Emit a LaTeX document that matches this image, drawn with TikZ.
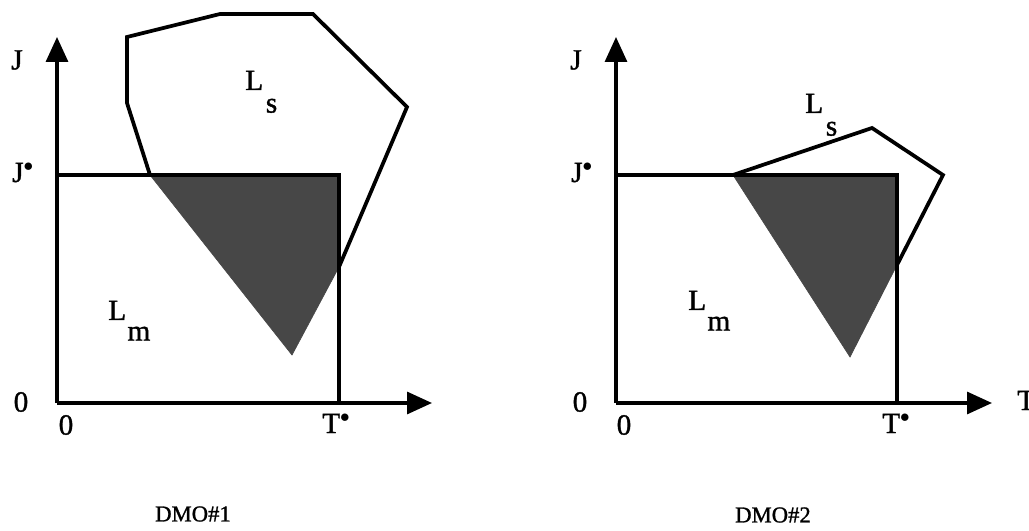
\documentclass[tikz,border=0pt]{standalone}
\usepackage{fontspec}
\setmainfont{Liberation Serif}
\newfontfamily\scanfont{Liberation Serif}[FakeBold=1.2]
\usetikzlibrary{arrows.meta}
\begin{document}
\begin{tikzpicture}[x=0.75pt,y=-0.75pt,
  axis/.style={line width=2.4pt,-{Triangle[length=18.75pt,width=16.5pt]}},
  guide/.style={line width=2.5pt},
  region/.style={line width=2.8pt,line join=miter},
  shade/.style={fill=black!72,draw=black!72,line width=0.5pt},
  lbl/.style={font=\scanfont\fontsize{22}{26}\selectfont,inner sep=0pt},
  captext/.style={font=\scanfont\fontsize{17}{20}\selectfont,inner sep=0pt}]
\useasboundingbox (0,0) rectangle (1029,531);

% ---------- left diagram ----------
\coordinate (O1) at (57,403);
\coordinate (Y1) at (57,37);
\coordinate (X1) at (432,403);
\coordinate (JA1) at (57,175);
\coordinate (P1) at (150,175);
\coordinate (C1) at (339,175);
\coordinate (K1) at (339,267);
\coordinate (B1) at (292,355);
\coordinate (TB1) at (339,403);

\fill[shade] (P1) -- (C1) -- (K1) -- (B1) -- cycle;
\draw[axis] (O1) -- (Y1);
\draw[axis] (O1) -- (X1);
\draw[guide] (JA1) -- (C1) -- (TB1);
\draw[region] (P1) -- (127,103) -- (127,37) -- (220,14) -- (313,14) -- (407,107) -- (K1);

\node[lbl] (j1) at (17,60) {J};
\node[lbl,anchor=base west] (js1) at (12,182) {J$^{\bullet}$};
\node[lbl] (z1) at (21,402) {0};
\node[lbl] (zb1) at (66,425) {0};
\node[lbl,anchor=base west] (ts1) at (322,433) {T$^{\bullet}$};
\node[lbl,anchor=base west] (ls1) at (245,90) {L\kern2pt\raisebox{-0.77em}{s}};
\node[lbl,anchor=base west] (lm1) at (108,320) {L\kern1pt\raisebox{-0.7em}{m}};
\node[captext] (d1) at (193,514) {DMO\#1};

% ---------- right diagram ----------
\coordinate (O2) at (616,403);
\coordinate (Y2) at (616,37);
\coordinate (X2) at (992,403);
\coordinate (JA2) at (616,175);
\coordinate (P2) at (733,175);
\coordinate (C2) at (897,175);
\coordinate (K2) at (897,265);
\coordinate (B2) at (850,357);
\coordinate (TB2) at (897,403);

\fill[shade] (P2) -- (C2) -- (K2) -- (B2) -- cycle;
\draw[axis] (O2) -- (Y2);
\draw[axis] (O2) -- (X2);
\draw[guide] (JA2) -- (C2) -- (TB2);
\draw[region] (P2) -- (872,128) -- (943,175) -- (K2);

\node[lbl] (j2) at (576,60) {J};
\node[lbl,anchor=base west] (js2) at (571,182) {J$^{\bullet}$};
\node[lbl] (z2) at (580,402) {0};
\node[lbl] (zb2) at (624,425) {0};
\node[lbl,anchor=base west] (ts2) at (882,433) {T$^{\bullet}$};
\node[lbl,anchor=base west] (t2) at (1017,410) {T};
\node[lbl,anchor=base west] (ls2) at (805,113) {L\kern2pt\raisebox{-0.77em}{s}};
\node[lbl,anchor=base west] (lm2) at (688,310) {L\kern1pt\raisebox{-0.7em}{m}};
\node[captext] (d2) at (773,515) {DMO\#2};
\end{tikzpicture}
\end{document}
